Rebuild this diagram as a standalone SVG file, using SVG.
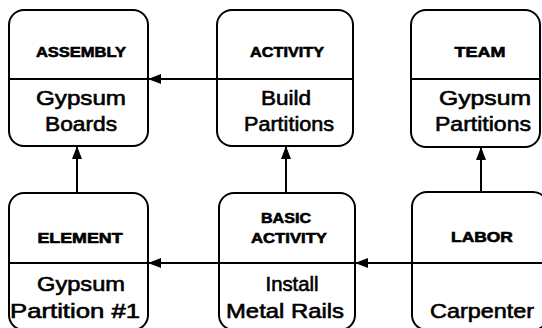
<svg xmlns="http://www.w3.org/2000/svg" width="542" height="328" viewBox="0 0 542 328">
  <style>
    .box { fill: #ffffff; stroke: #000000; stroke-width: 2; }
    .div { stroke: #000000; stroke-width: 2; }
    .lbl { font-family: "Liberation Sans", Arial, sans-serif; font-weight: bold; font-size: 14.5px; fill: #000000; stroke: #000000; stroke-width: 0.6; text-anchor: middle; }
    .val { font-family: "Liberation Sans", Arial, sans-serif; font-size: 20px; fill: #000000; stroke: #000000; stroke-width: 0.6; text-anchor: middle; }
    .conn { stroke: #000000; stroke-width: 2; fill: none; marker-end: url(#head); }
  </style>
  <defs>
    <marker id="head" viewBox="0 0 13 10" refX="12" refY="5" markerWidth="13" markerHeight="10" markerUnits="userSpaceOnUse" orient="auto">
      <path d="M0,0 L13,5 L0,10 Z" fill="#000000"/>
    </marker>
  </defs>
  <rect width="542" height="328" fill="#ffffff"/>

  <g id="connectors">
    <line class="conn" x1="217" y1="79" x2="149" y2="79"/>
    <line class="conn" x1="219" y1="263" x2="149" y2="263"/>
    <line class="conn" x1="412" y1="263" x2="356" y2="263"/>
    <line class="conn" x1="77" y1="193" x2="77" y2="147"/>
    <line class="conn" x1="286" y1="193" x2="286" y2="147"/>
    <line class="conn" x1="481" y1="192" x2="481" y2="148"/>
  </g>

  <g id="assembly">
    <rect class="box" x="9" y="10" width="139" height="136" rx="15"/>
    <line class="div" x1="9" y1="79" x2="148" y2="79"/>
    <text class="lbl" transform="translate(81,57) scale(1.14,1)">ASSEMBLY</text>
    <text class="val" x="81" y="105" textLength="90" lengthAdjust="spacingAndGlyphs">Gypsum</text>
    <text class="val" x="81" y="131" textLength="72" lengthAdjust="spacingAndGlyphs">Boards</text>
  </g>

  <g id="activity">
    <rect class="box" x="217" y="10" width="136" height="136" rx="15"/>
    <line class="div" x1="217" y1="79" x2="353" y2="79"/>
    <text class="lbl" transform="translate(287,57) scale(1.12,1)">ACTIVITY</text>
    <text class="val" x="286" y="105" textLength="50" lengthAdjust="spacingAndGlyphs">Build</text>
    <text class="val" x="289" y="131" textLength="90" lengthAdjust="spacingAndGlyphs">Partitions</text>
  </g>

  <g id="team">
    <rect class="box" x="411" y="10" width="129" height="137" rx="15"/>
    <line class="div" x1="411" y1="79" x2="540" y2="79"/>
    <text class="lbl" transform="translate(480,57) scale(1.24,1)">TEAM</text>
    <text class="val" x="485" y="105" textLength="92" lengthAdjust="spacingAndGlyphs">Gypsum</text>
    <text class="val" x="483" y="131" textLength="96" lengthAdjust="spacingAndGlyphs">Partitions</text>
  </g>

  <g id="element">
    <rect class="box" x="9" y="193" width="139" height="137" rx="15"/>
    <line class="div" x1="9" y1="263" x2="148" y2="263"/>
    <text class="lbl" transform="translate(80,243) scale(1.23,1)">ELEMENT</text>
    <text class="val" x="81" y="291" textLength="88" lengthAdjust="spacingAndGlyphs">Gypsum</text>
    <text class="val" x="75" y="318" textLength="130" lengthAdjust="spacingAndGlyphs">Partition #1</text>
  </g>

  <g id="basic-activity">
    <rect class="box" x="219" y="193" width="136" height="137" rx="15"/>
    <line class="div" x1="219" y1="263" x2="355" y2="263"/>
    <text class="lbl" transform="translate(286,223) scale(1.11,1)">BASIC</text>
    <text class="lbl" transform="translate(289,243) scale(1.15,1)">ACTIVITY</text>
    <text class="val" x="292" y="291" textLength="53" lengthAdjust="spacingAndGlyphs">Install</text>
    <text class="val" x="285" y="318" textLength="118" lengthAdjust="spacingAndGlyphs">Metal Rails</text>
  </g>

  <g id="labor">
    <rect class="box" x="412" y="192" width="136" height="138" rx="15"/>
    <line class="div" x1="412" y1="263" x2="548" y2="263"/>
    <text class="lbl" transform="translate(482,242) scale(1.2,1)">LABOR</text>
    <text class="val" x="482" y="318" textLength="104" lengthAdjust="spacingAndGlyphs">Carpenter</text>
  </g>
</svg>
